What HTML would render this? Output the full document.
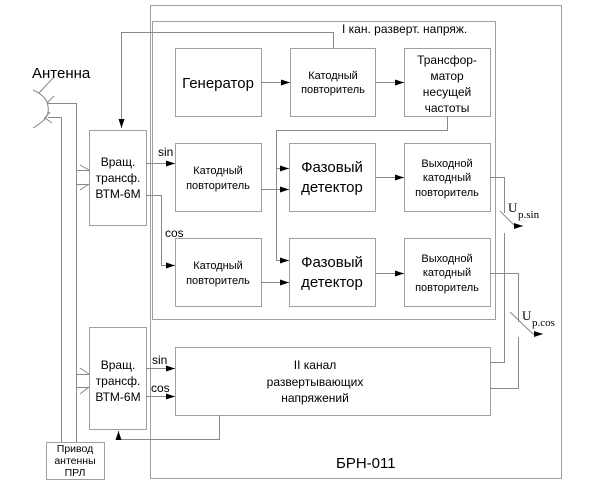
<!DOCTYPE html>
<html><head><meta charset="utf-8"><style>
html,body{margin:0;padding:0;background:#fff;}
svg{display:block;}
text{font-family:"Liberation Sans",sans-serif;fill:#000;}
</style></head><body>
<svg width="591" height="498" viewBox="0 0 591 498" xmlns="http://www.w3.org/2000/svg">
<defs>
<marker id="a" markerWidth="9" markerHeight="6" refX="9" refY="3" orient="auto" markerUnits="userSpaceOnUse">
<path d="M0,0 L9,3 L0,6 z" fill="#000"/></marker>
</defs>
<g fill="none" stroke="#a0a0a0" stroke-width="1">
<rect x="150.5" y="5.5" width="411" height="473"/>
<rect x="152.5" y="21.5" width="343" height="298"/>
<rect x="175.5" y="48.5" width="86" height="68"/>
<rect x="290.5" y="48.5" width="85" height="68"/>
<rect x="404.5" y="48.5" width="86" height="68"/>
<rect x="175.5" y="143.5" width="86" height="68"/>
<rect x="289.5" y="143.5" width="86" height="68"/>
<rect x="404.5" y="143.5" width="86" height="68"/>
<rect x="175.5" y="238.5" width="86" height="68"/>
<rect x="289.5" y="238.5" width="86" height="68"/>
<rect x="404.5" y="238.5" width="86" height="68"/>
<rect x="89.5" y="130.5" width="57" height="95"/>
<rect x="89.5" y="327.5" width="57" height="102"/>
<rect x="46.5" y="442.5" width="58" height="37"/>
<rect x="175.5" y="347.5" width="315" height="68"/>
</g>
<g fill="none" stroke="#888" stroke-width="1">
<path d="M333.5,48 V32.5 H121.5 V128" marker-end="url(#a)"/>
<path d="M261,82.5 H290" marker-end="url(#a)"/>
<path d="M376,82.5 H404" marker-end="url(#a)"/>
<path d="M447.5,116 V130.5 H276.5 V260.5 H289" marker-end="url(#a)"/>
<path d="M276.5,168.5 H289" marker-end="url(#a)"/>
<path d="M261,189.5 H289" marker-end="url(#a)"/>
<path d="M261,282.5 H289" marker-end="url(#a)"/>
<path d="M376,177.5 H404" marker-end="url(#a)"/>
<path d="M376,273.5 H404" marker-end="url(#a)"/>
<path d="M146,163.5 H175" marker-end="url(#a)"/>
<path d="M146,195.5 H161.5 V265.5 H175" marker-end="url(#a)"/>
<path d="M146,368.5 H175" marker-end="url(#a)"/>
<path d="M146,396.5 H175" marker-end="url(#a)"/>
<path d="M219.5,415 V439.5 H118.5 V431" marker-end="url(#a)"/>
<path d="M490,177.5 H504.5 V213"/>
<path d="M504.5,233 V362.5 H490"/>
<path d="M500,211 L515,226 H523" marker-end="url(#a)"/>
<path d="M490,273.5 H518.5 V322"/>
<path d="M518.5,337 V388.5 H490"/>
<path d="M510,312 L533,334 H543" marker-end="url(#a)"/>
<path d="M33,90 Q46,96 47.5,104 Q50,112 45,119 Q40,124 33,128"/>
<path d="M39,93 L53,78 M47,103 L54,96 M45,118 L52,123 M44,119 L50,112"/>
<path d="M47,103.5 H76.5 V442 M48,117.5 H61.5 V442"/>
<path d="M76.5,170.5 H89 M76.5,184.5 H89 M80,165 L89,170 M80,190 L89,184"/>
<path d="M76.5,374.5 H89 M76.5,387.5 H89 M80,368 L89,374 M80,394 L89,387"/>
</g>
<text x="32" y="78" font-size="15">Антенна</text>
<text x="342" y="33" font-size="12">I кан. разверт. напряж.</text>
<text x="218" y="88" font-size="15" text-anchor="middle">Генератор</text>
<g font-size="11" text-anchor="middle">
<text x="333" y="79">Катодный</text><text x="333" y="93">повторитель</text>
<text x="218" y="174">Катодный</text><text x="218" y="189">повторитель</text>
<text x="218" y="269">Катодный</text><text x="218" y="284">повторитель</text>
<text x="447" y="167">Выходной</text><text x="447" y="181">катодный</text><text x="447" y="196">повторитель</text>
<text x="447" y="262">Выходной</text><text x="447" y="276">катодный</text><text x="447" y="291">повторитель</text>
</g>
<g font-size="10.5" text-anchor="middle">
<text x="75" y="452">Привод</text><text x="75" y="464">антенны</text><text x="75" y="476">ПРЛ</text>
</g>
<g font-size="12" text-anchor="middle">
<text x="447" y="64">Трансфор-</text><text x="447" y="80">матор</text><text x="447" y="96">несущей</text><text x="447" y="112">частоты</text>
<text x="118" y="166">Вращ.</text><text x="118" y="182">трансф.</text><text x="118" y="198">ВТМ-6М</text>
<text x="118" y="369">Вращ.</text><text x="118" y="385">трансф.</text><text x="118" y="401">ВТМ-6М</text>
<text x="315" y="369">II канал</text><text x="315" y="386">развертывающих</text><text x="315" y="402">напряжений</text>
</g>
<g font-size="15" text-anchor="middle">
<text x="332" y="172">Фазовый</text><text x="332" y="192">детектор</text>
<text x="332" y="267">Фазовый</text><text x="332" y="287">детектор</text>
</g>
<g font-size="12">
<text x="158" y="156">sin</text>
<text x="165" y="237">cos</text>
<text x="152" y="364">sin</text>
<text x="151" y="392">cos</text>
<text x="336" y="468" font-size="15">БРН-011</text>
</g>
<g>
<text x="508" y="212" font-size="13" style="font-family:'Liberation Serif',serif">U</text>
<text x="518" y="218" font-size="11" style="font-family:'Liberation Serif',serif">p.sin</text>
<text x="522" y="320" font-size="13" style="font-family:'Liberation Serif',serif">U</text>
<text x="532" y="326" font-size="11" style="font-family:'Liberation Serif',serif">p.cos</text>
</g>
</svg>
</body></html>
